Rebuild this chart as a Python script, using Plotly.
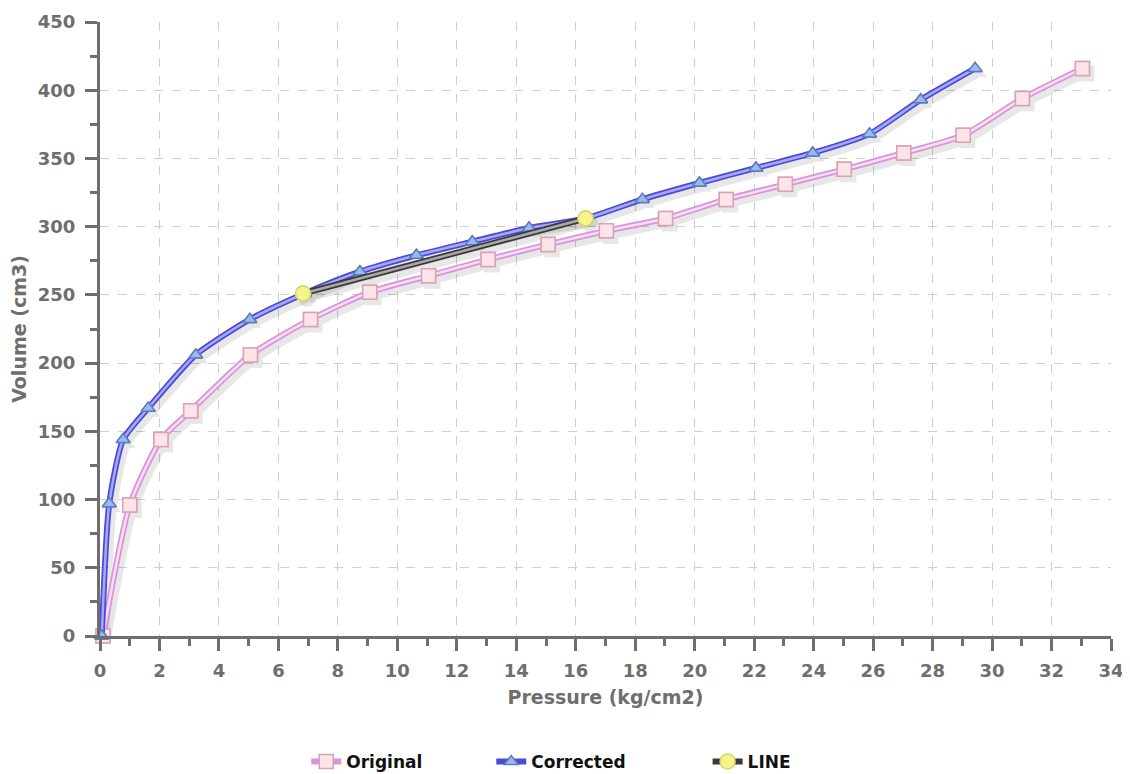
import plotly.graph_objects as go

# ---- data ----
orig_x = [0.1, 1.0, 2.05, 3.05, 5.06, 7.08, 9.07, 11.05, 13.05, 15.07, 17.03, 19.02, 21.06, 23.05, 25.03, 27.03, 29.03, 31.02, 33.04]
orig_y = [0, 96, 144, 165, 206, 232, 252, 264, 276, 287, 297, 306, 320, 331, 342, 354, 367, 394, 416]

corr_x = [0.06, 0.31, 0.78, 1.62, 3.22, 5.04, 6.88, 8.74, 10.64, 12.52, 14.43, 16.33, 18.24, 20.16, 22.06, 23.97, 25.88, 27.6, 29.43]
corr_y = [0, 97, 144, 167, 206, 232, 251, 267, 279, 289, 299, 306, 320, 332, 343, 354, 368, 393, 416]

line_x = [6.83, 16.33]
line_y = [251, 306]

X_RANGE = [0, 34]
Y_RANGE = [0, 450]

series = [
    dict(name="Original", x=orig_x, y=orig_y, outer="#d994d9", inner="#f7def5",
         symbol="square", mfill="#fde3ea", mline="#d9a3b4", msize=14, shape="spline", legend="legend"),
    dict(name="Corrected", x=corr_x, y=corr_y, outer="#4a4ad6", inner="#a6aaf4",
         symbol="triangle-up", mfill="#9db9ec", mline="#5a7cc4", msize=12, shape="spline", legend="legend2"),
    dict(name="LINE", x=line_x, y=line_y, outer="#3a3a3a", inner="#a9a9a9",
         symbol="circle", mfill="#f5f58c", mline="#d6d66a", msize=15, shape="linear", legend="legend3"),
]

fig = go.Figure()

# host trace so the visible base axes (ticks, grid) get built; it holds no points
fig.add_trace(go.Scatter(x=[], y=[], mode="markers", showlegend=False, hoverinfo="skip"))

# soft drop shadows (overlay axis pair offset by a few pixels)
for s in series:
    fig.add_trace(go.Scatter(
        x=s["x"], y=s["y"], mode="lines+markers", showlegend=False,
        xaxis="x2", yaxis="y2", opacity=0.09,
        line=dict(color="#000000", width=7, shape=s["shape"], smoothing=0.6),
        marker=dict(symbol=s["symbol"], size=s["msize"] + 2, color="#000000"),
        cliponaxis=False, hoverinfo="skip"))

for s in series:
    # outer (dark) stroke – legend entry
    fig.add_trace(go.Scatter(
        x=s["x"], y=s["y"], name=s["name"], mode="lines+markers", legend=s["legend"],
        xaxis="x3", yaxis="y3",
        line=dict(color=s["outer"], width=6, shape=s["shape"], smoothing=0.6),
        marker=dict(symbol=s["symbol"], size=s["msize"], color=s["mfill"],
                    line=dict(color=s["mline"], width=1.5)),
        cliponaxis=False, hoverinfo="skip"))
    # inner (light) stroke
    fig.add_trace(go.Scatter(
        x=s["x"], y=s["y"], mode="lines", showlegend=False,
        xaxis="x3", yaxis="y3",
        line=dict(color=s["inner"], width=2.5, shape=s["shape"], smoothing=0.6),
        cliponaxis=False, hoverinfo="skip"))
    # markers on top
    fig.add_trace(go.Scatter(
        x=s["x"], y=s["y"], mode="markers", showlegend=False,
        xaxis="x3", yaxis="y3",
        marker=dict(symbol=s["symbol"], size=s["msize"], color=s["mfill"],
                    line=dict(color=s["mline"], width=1.5)),
        cliponaxis=False, hoverinfo="skip"))

AX = "#6e6e6e"
tickfont = dict(family="DejaVu Sans", size=18, color=AX, weight="bold")
titlefont = dict(family="DejaVu Sans", size=19, color=AX, weight="bold")
axis_common = dict(
    showline=True, linecolor=AX, linewidth=3, mirror=False,
    ticks="outside", ticklen=12, tickwidth=3, tickcolor=AX,
    showgrid=True, gridcolor="#cfcfcf", griddash="dash", gridwidth=1,
    zeroline=False, tickfont=tickfont, automargin=False,
)

px_x = (X_RANGE[1] - X_RANGE[0]) / 1011.0
px_y = (Y_RANGE[1] - Y_RANGE[0]) / 614.0

fig.update_layout(
    xaxis=dict(range=X_RANGE, dtick=2, tick0=0,
               title=dict(text="Pressure (kg/cm2)", font=titlefont, standoff=12),
               ticklabelstandoff=4,
               minor=dict(dtick=1, ticklen=7, tickwidth=3, tickcolor=AX, showgrid=False, ticks="outside"),
               **axis_common),
    yaxis=dict(range=Y_RANGE, dtick=50, tick0=0,
               title=dict(text="Volume (cm3)", font=titlefont, standoff=10),
               ticklabelstandoff=6,
               minor=dict(dtick=25, ticklen=7, tickwidth=3, tickcolor=AX, showgrid=False, ticks="outside"),
               **axis_common),
    xaxis2=dict(range=[X_RANGE[0] - 4 * px_x, X_RANGE[1] - 4 * px_x], overlaying="x", visible=False),
    yaxis2=dict(range=[Y_RANGE[0] + 5 * px_y, Y_RANGE[1] + 5 * px_y], overlaying="y", visible=False),
    xaxis3=dict(range=X_RANGE, overlaying="x", visible=False),
    yaxis3=dict(range=Y_RANGE, overlaying="y", visible=False),
    width=1122, height=790,
    margin=dict(l=92, r=19, t=14, b=162),
    paper_bgcolor="white", plot_bgcolor="white",
    showlegend=True,
)

legfont = dict(family="DejaVu Sans", size=17, color="#111111", weight="bold")
for key, xpos in [("legend", 0.204), ("legend2", 0.387), ("legend3", 0.601)]:
    fig.update_layout({key: dict(orientation="h", x=xpos, xanchor="left", y=-0.205, yanchor="middle",
                                 font=legfont, bgcolor="rgba(0,0,0,0)")})

fig.write_html("out.html")
